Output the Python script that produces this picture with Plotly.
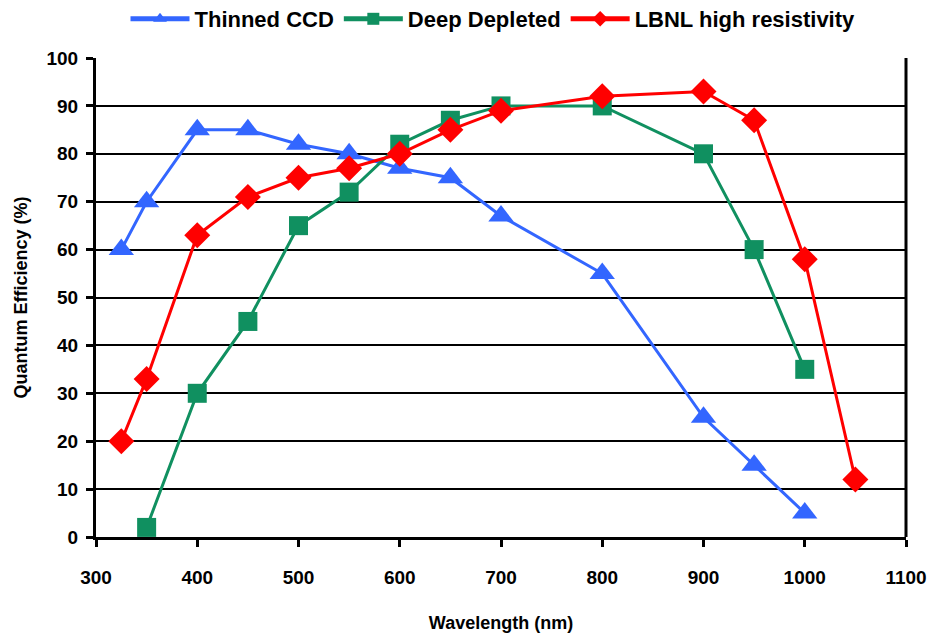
import plotly.graph_objects as go

wl_thin = [325, 350, 400, 450, 500, 550, 600, 650, 700, 800, 900, 950, 1000]
qe_thin = [60, 70, 85, 85, 82, 80, 77, 75, 67, 55, 25, 15, 5]

wl_deep = [350, 400, 450, 500, 550, 600, 650, 700, 800, 900, 950, 1000]
qe_deep = [2, 30, 45, 65, 72, 82, 87, 90, 90, 80, 60, 35]

wl_lbnl = [325, 350, 400, 450, 500, 550, 600, 650, 700, 800, 900, 950, 1000, 1050]
qe_lbnl = [20, 33, 63, 71, 75, 77, 80, 85, 89, 92, 93, 87, 58, 12]

names = ["Thinned CCD", "Deep Depleted", "LBNL high resistivity"]
colors = ["#3366FF", "#109060", "#FF0000"]
symbols = ["triangle-up", "square", "diamond"]
sizes = [22, 19, 20]

fig = go.Figure()
for x, y, n, c, s, sz in zip([wl_thin, wl_deep, wl_lbnl], [qe_thin, qe_deep, qe_lbnl],
                             names, colors, symbols, sizes):
    fig.add_trace(go.Scatter(x=x, y=y, name=n, mode="lines+markers",
                             line=dict(color=c, width=3),
                             marker=dict(symbol=s, size=sz, color=c)))

font_fam = "Liberation Sans, Arial, sans-serif"
fig.update_layout(
    width=933, height=642,
    margin=dict(l=96, r=27, t=58, b=105, autoexpand=False),
    plot_bgcolor="white", paper_bgcolor="white",
    font=dict(family=font_fam, size=18, color="black", weight="bold"),
    showlegend=True,
    legend=dict(orientation="h", x=493 / 933, xanchor="center", xref="container",
                y=1 - 19 / 642, yanchor="middle", yref="container",
                font=dict(size=22, weight="bold"), itemwidth=59,
                traceorder="normal", borderwidth=0, itemsizing="constant"),
    xaxis=dict(range=[300, 1100], tickvals=list(range(300, 1101, 100)),
               showgrid=False, showline=True, linecolor="black", linewidth=3,
               mirror=False, ticks="outside", ticklen=7, tickwidth=3, tickcolor="black",
               zeroline=False, ticklabelstandoff=14, automargin=False,
               title=dict(text="Wavelength (nm)", font=dict(size=18, weight="bold"), standoff=30),
               tickfont=dict(size=19, weight="bold")),
    yaxis=dict(range=[0, 100], tickvals=list(range(0, 101, 10)),
               showgrid=True, gridcolor="black", gridwidth=2,
               showline=True, linecolor="black", linewidth=3,
               ticks="outside", ticklen=7, tickwidth=3, tickcolor="black",
               zeroline=False, ticklabelstandoff=4, automargin=False,
               title=dict(text="Quantum Efficiency (%)", font=dict(size=18, weight="bold"), standoff=15),
               tickfont=dict(size=19, weight="bold")),
)
# right border of plot area
fig.add_shape(type="line", xref="paper", yref="paper", x0=1, x1=1, y0=0, y1=1,
              line=dict(color="black", width=3))
fig.write_html("out.html")
